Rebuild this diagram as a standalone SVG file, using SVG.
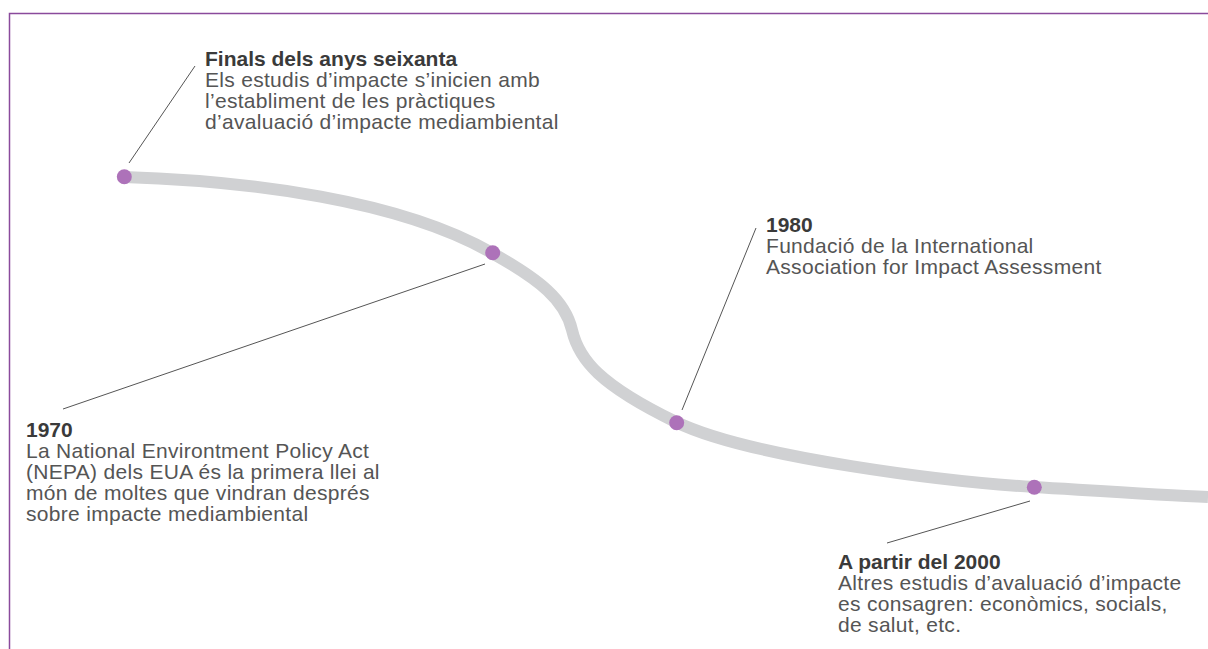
<svg xmlns="http://www.w3.org/2000/svg" width="1208" height="649" viewBox="0 0 1208 649">
<style>
.frame{fill:none;stroke:#8a4a9c;stroke-width:1.5}
.track{fill:none;stroke:#d0d1d3;stroke-width:12;stroke-linecap:butt}
.dot{fill:#ad72b9}
.lead{fill:none;stroke:#555;stroke-width:1}
text{font-family:"Liberation Sans",Arial,Helvetica,sans-serif;font-size:21px}
.h{font-weight:bold;fill:#3a3a3a}
.b{fill:#555;letter-spacing:0.3px}
</style>
<rect width="1208" height="649" fill="#fff"/>
<path class="frame" d="M9.5,649 V13.5 H1208"/>
<g id="connectors">
<path class="track" d="M124,177 C250,181 400,200 492,253 C540,280 565,300 572,330 C579,360 600,385 676,422 C750,458 950,482 1034,487 C1100,491 1160,495 1208,497"/>
<line class="lead" x1="195" y1="66" x2="129" y2="163"/>
<line class="lead" x1="485" y1="264" x2="63" y2="409"/>
<line class="lead" x1="756" y1="228" x2="682" y2="410"/>
<line class="lead" x1="1030" y1="501" x2="887" y2="543"/>
</g>
<g id="n1">
<circle class="dot" cx="124.3" cy="176.7" r="7.5"/>
<text x="205" y="65.5"><tspan class="h">Finals dels anys seixanta</tspan><tspan class="b" x="205" y="86.5">Els estudis d’impacte s’inicien amb</tspan><tspan class="b" x="205" y="107.5">l’establiment de les pràctiques</tspan><tspan class="b" x="205" y="128.5">d’avaluació d’impacte mediambiental</tspan></text>
</g>
<g id="n2">
<circle class="dot" cx="492.7" cy="252.7" r="7.5"/>
<text x="26" y="437"><tspan class="h">1970</tspan><tspan class="b" x="26" y="458">La National Environtment Policy Act</tspan><tspan class="b" x="26" y="479">(NEPA) dels EUA és la primera llei al</tspan><tspan class="b" x="26" y="500">món de moltes que vindran després</tspan><tspan class="b" x="26" y="521">sobre impacte mediambiental</tspan></text>
</g>
<g id="n3">
<circle class="dot" cx="676.7" cy="422.7" r="7.5"/>
<text x="766" y="232"><tspan class="h">1980</tspan><tspan class="b" x="766" y="253">Fundació de la International</tspan><tspan class="b" x="766" y="274">Association for Impact Assessment</tspan></text>
</g>
<g id="n4">
<circle class="dot" cx="1034.3" cy="487.3" r="7.5"/>
<text x="838" y="569"><tspan class="h">A partir del 2000</tspan><tspan class="b" x="838" y="590">Altres estudis d’avaluació d’impacte</tspan><tspan class="b" x="838" y="611">es consagren: econòmics, socials,</tspan><tspan class="b" x="838" y="632">de salut, etc.</tspan></text>
</g>
</svg>
